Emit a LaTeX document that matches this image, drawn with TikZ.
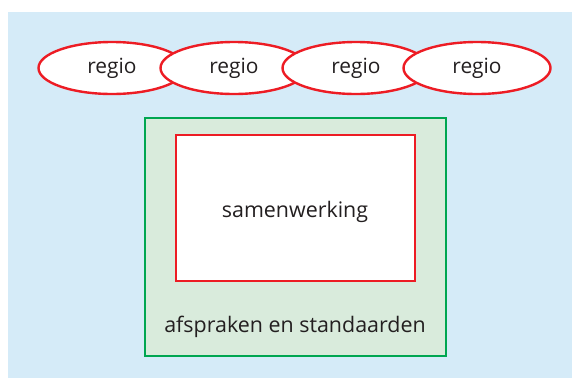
\documentclass[tikz,border=0pt]{standalone}
\usepackage{fontspec}
\setmainfont{Open Sans}
\usetikzlibrary{shapes.geometric}

\definecolor{skyblue}{RGB}{213,235,248}
\definecolor{palegreen}{RGB}{217,235,220}
\definecolor{boxgreen}{RGB}{0,166,81}
\definecolor{regiored}{RGB}{237,28,36}
\definecolor{inkgray}{RGB}{35,31,32}

\begin{document}
\begin{tikzpicture}[x=1bp,y=-1bp,
    regio/.style={ellipse,draw=regiored,fill=white,line width=2.4bp,
        minimum width=147bp,minimum height=52bp,inner sep=0pt,
        text=inkgray,font=\fontsize{21}{25}\selectfont},
    label/.style={text=inkgray,font=\fontsize{21.5}{25}\selectfont}]
    \useasboundingbox (0,0) rectangle (572,378);
    \fill[skyblue] (8,12) rectangle (572,378);
    \draw[boxgreen,fill=palegreen,line width=2bp] (145,118) rectangle (446,356);
    \draw[regiored,fill=white,line width=2bp] (176,135) rectangle (415,281);
    \draw
    (112,68) node[regio](r1){regio}
    (234,68) node[regio](r2){regio}
    (356,68) node[regio](r3){regio}
    (477,68) node[regio](r4){regio}
    ;
    \node[label] (samen) at (295,212) {samenwerking};
    \node[label] (afspr) at (295,327) {afspraken en standaarden};
\end{tikzpicture}
\end{document}
